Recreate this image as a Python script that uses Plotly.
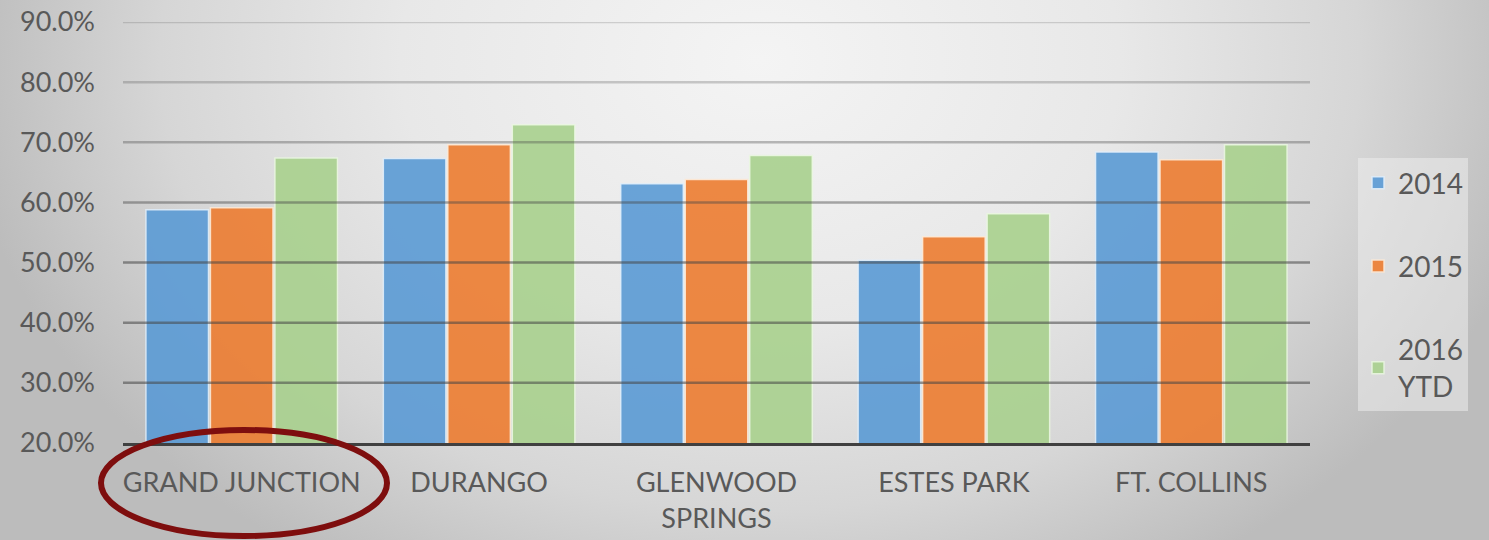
import base64
import plotly.graph_objects as go

categories = ["GRAND JUNCTION", "DURANGO", "GLENWOOD<br>SPRINGS", "ESTES PARK", "FT. COLLINS"]
series_names = ["2014", "2015", "2016<br>YTD"]
values_2014 = [0.588, 0.673, 0.631, 0.504, 0.684]
values_2015 = [0.591, 0.696, 0.638, 0.543, 0.671]
values_2016 = [0.674, 0.729, 0.678, 0.581, 0.696]
tick_values = [0.2, 0.3, 0.4, 0.5, 0.6, 0.7, 0.8, 0.9]
colors = ["#5b9bd5", "#ed7d31", "#a9d18e"]
edge_colors = ["rgba(225,240,252,0.9)", "rgba(255,235,215,0.9)", "rgba(235,248,225,0.9)"]

W, H = 1489, 540
L, R, T, B = 123, 179, 22, 97
PW, PH = W - L - R, H - T - B

svg = f'''<svg xmlns="http://www.w3.org/2000/svg" width="{W}" height="{H}" viewBox="0 0 {W} {H}" preserveAspectRatio="none">
<defs><radialGradient id="g" gradientUnits="userSpaceOnUse" cx="760" cy="60" r="800" gradientTransform="translate(760 60) scale(1 0.75) translate(-760 -60)">
<stop offset="0" stop-color="#f4f4f4"/><stop offset="0.45" stop-color="#e8e8e8"/><stop offset="0.75" stop-color="#d6d6d6"/><stop offset="1" stop-color="#bcbcbc"/>
</radialGradient></defs><rect width="{W}" height="{H}" fill="url(#g)"/></svg>'''
bg_src = "data:image/svg+xml;base64," + base64.b64encode(svg.encode()).decode()

fig = go.Figure()
for name, vals, c, ec in zip(series_names, [values_2014, values_2015, values_2016], colors, edge_colors):
    fig.add_trace(go.Bar(
        x=categories, y=vals, name=name, legendgroup=name,
        marker=dict(color=c, line=dict(color=ec, width=1.5)), opacity=0.9,
    ))

grid_alpha = {0.3: 0.55, 0.4: 0.55, 0.5: 0.55, 0.6: 0.45, 0.7: 0.35, 0.8: 0.26, 0.9: 0.2}
shapes = []
for tv in tick_values[1:]:
    shapes.append(dict(type="line", xref="paper", yref="y", x0=0, x1=1, y0=tv, y1=tv,
                       line=dict(color=f"rgba(70,70,70,{grid_alpha[tv]})", width=2.5), layer="above"))
# highlight ellipse around Grand Junction
shapes.append(dict(type="circle", xref="paper", yref="paper",
                   x0=(101 - L) / PW, x1=(387 - L) / PW, y0=(H - B - 536) / PH, y1=(H - B - 430) / PH,
                   line=dict(color="#7e0e0e", width=6), layer="above"))

fig.update_layout(
    width=W, height=H,
    margin=dict(l=L, r=R, t=T, b=B, autoexpand=False),
    paper_bgcolor="#dcdcdc", plot_bgcolor="rgba(0,0,0,0)",
    images=[dict(source=bg_src, xref="paper", yref="paper", x=-L / PW, y=1 + T / PH,
                 sizex=W / PW, sizey=H / PH, sizing="stretch", xanchor="left", yanchor="top", layer="below")],
    barmode="group", bargap=0.185, bargroupgap=0.03,
    font=dict(family="Lato, 'Open Sans', sans-serif", color="#595959", size=27),
    showlegend=True,
    legend=dict(x=(1358 - L) / PW, xanchor="left", y=(H - B - 158) / PH, yanchor="top",
                bgcolor="rgba(236,236,236,0.55)", font=dict(size=28, color="#595959"),
                tracegroupgap=44, itemwidth=30, borderwidth=0),
    shapes=shapes,
    xaxis=dict(showgrid=False, showline=True, linecolor="#404040", linewidth=3, automargin=False,
               ticks="", tickfont=dict(size=27, color="#595959"), ticklabelstandoff=14),
    yaxis=dict(range=[0.2, 0.9], tickvals=tick_values, tickformat=".1%", showgrid=False,
               zeroline=False, showline=False, ticks="", ticklabelstandoff=27, automargin=False,
               tickfont=dict(size=27, color="#595959")),
)

fig.write_html("out.html")
